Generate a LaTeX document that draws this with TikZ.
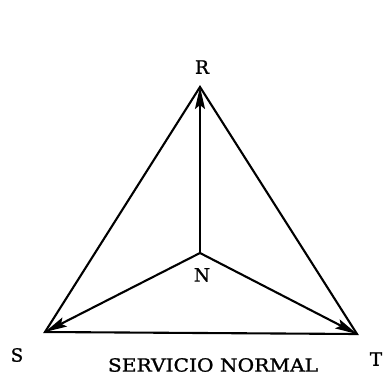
\documentclass[tikz,border=0pt]{standalone}
\usepackage{fontspec}
\setmainfont{DejaVu Serif}
\newfontfamily\labfont[FakeBold=1.2]{DejaVu Serif}
\usetikzlibrary{arrows.meta}
\newcommand{\lettr}[1]{\resizebox{!}{13.5pt}{\labfont #1}}
\begin{document}
\begin{tikzpicture}[x=1pt,y=-1pt,
  edge/.style={line width=2.1pt},
  phase/.style={line width=2.1pt,-{Stealth[length=22pt,width=10pt,inset=4pt]}},
  lbl/.style={inner sep=0pt}]
\useasboundingbox (0,0) rectangle (386,381);
\coordinate (R) at (200,87);
\coordinate (S) at (45,332);
\coordinate (T) at (357,334);
\coordinate (N) at (200,253);
\draw[edge] (R) -- (S) -- (T) -- cycle;
\draw[phase] (N) -- (R);
\draw[phase] (N) -- (S);
\draw[phase] (N) -- (T);
\node[lbl] (lR) at (202,67) {\lettr{R}};
\node[lbl] (lN) at (202,275) {\lettr{N}};
\node[lbl] (lS) at (17,355) {\lettr{S}};
\node[lbl] (lT) at (376,359) {\lettr{T}};
\node[lbl] (cap) at (213,365) {\resizebox{210pt}{13.5pt}{\labfont SERVICIO NORMAL}};
\end{tikzpicture}
\end{document}
